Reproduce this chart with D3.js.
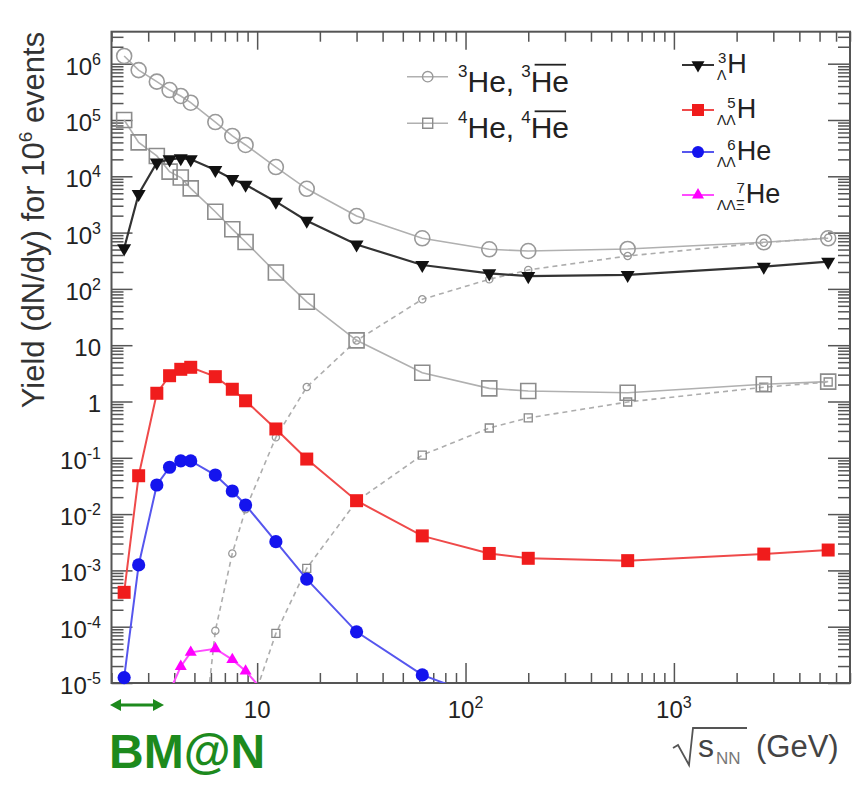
<!DOCTYPE html>
<html>
<head>
<meta charset="utf-8">
<script src="https://cdn.jsdelivr.net/npm/d3@7"></script>
<style>
  body { margin: 0; background: #fff; }
  svg text { font-family: "Liberation Sans", Arial, sans-serif; }
</style>
</head>
<body>
<svg id="chart" width="861" height="787"></svg>
<script>
// collision energies, sqrt(s_NN) in GeV
const energies = [2.3, 2.7, 3.3, 3.8, 4.3, 4.8, 6.3, 7.6, 8.8, 12.3, 17.3, 30, 62, 130, 200, 600, 2700, 5500];

// yields dN/dy per 10^6 events (null = no point)
const he3 = [1.37e6, 7.7e5, 4.8e5, 3.4e5, 2.67e5, 2.03e5, 9.2e4, 5.2e4, 3.6e4, 1.46e4, 6.0e3, 1970, 792, 505, 471, 512, 673, 792];
const he4 = [1.0e5, 4.0e4, 2.3e4, 1.21e4, 9.5e3, 6.1e3, 2.35e3, 1.15e3, 681, 196, 59, 12.2, 3.25, 1.71, 1.54, 1.43, 2.02, 2.25];
const antiHe3 = [null, null, null, null, null, 1e-8, 8.5e-5, 2.0e-3, 1.22e-2, 0.231, 1.81, 12.1, 65.3, 148, 217, 384, 662, 811];
const antiHe4 = [null, null, null, null, null, null, null, null, 2e-6, 7.6e-5, 1.09e-3, 1.7e-2, 0.112, 0.338, 0.51, 0.98, 1.79, 2.22];
const h3L = [526, 4850, 17460, 20000, 20900, 20000, 12940, 8960, 7100, 3540, 1627, 615, 266, 189, 169, 177, 248, 304];
const h5LL = [4.08e-4, 4.8e-2, 1.40, 2.87, 3.73, 4.05, 2.76, 1.65, 1.03, 0.325, 9.5e-2, 1.73e-2, 4.1e-3, 2.0e-3, 1.64e-3, 1.49e-3, 1.95e-3, 2.3e-3];
const he6LL = [1.25e-5, 1.25e-3, 3.29e-2, 6.8e-2, 8.8e-2, 8.8e-2, 4.94e-2, 2.57e-2, 1.45e-2, 3.24e-3, 7.0e-4, 8.1e-5, 1.39e-5, 5e-6, null, null, null, null];
const he7LLXi = [null, null, null, 7e-6, 1.96e-5, 3.5e-5, 4.06e-5, 2.6e-5, 1.63e-5, 4e-6, null, null, null, null, null, null, null, null];

// axis ticks
const xMajor = [10, 100, 1000];
const yMajor = [1e-5, 1e-4, 1e-3, 1e-2, 1e-1, 1, 10, 1e2, 1e3, 1e4, 1e5, 1e6];

const svg = d3.select('#chart');
const plot = {left: 111.5, right: 850, top: 31.7, bottom: 683};

const x = d3.scaleLog().domain([2, 7000]).range([plot.left, plot.right]);
const y = d3.scaleLog().domain([1e-5, 3.7e6]).range([plot.bottom, plot.top]);

// minor ticks 2..9 per decade inside domain
function minors(scale) {
    const [a, b] = scale.domain();
    const out = [];
    for (let p = Math.floor(Math.log10(a)); p <= Math.ceil(Math.log10(b)); p++) {
        for (let k = 2; k <= 9; k++) {
            const v = k * Math.pow(10, p);
            if (v >= a && v <= b) out.push(v);
        }
    }
    return out;
}

const axisColor = '#555';

function drawTicks(axis, values, size, transform) {
    const g = svg.append('g')
        .attr('transform', transform)
        .call(axis.tickValues(values).tickSizeInner(size).tickSizeOuter(0).tickFormat(''));
    g.select('.domain').remove();
    g.selectAll('line').attr('stroke', axisColor).attr('stroke-width', 1.5);
}

drawTicks(d3.axisBottom(x), xMajor, -20, `translate(0,${plot.bottom})`);
drawTicks(d3.axisBottom(x), minors(x), -10, `translate(0,${plot.bottom})`);
drawTicks(d3.axisTop(x), xMajor, -18, `translate(0,${plot.top})`);
drawTicks(d3.axisTop(x), minors(x), -10, `translate(0,${plot.top})`);
drawTicks(d3.axisLeft(y), yMajor, -21, `translate(${plot.left},0)`);
drawTicks(d3.axisLeft(y), minors(y), -12, `translate(${plot.left},0)`);
drawTicks(d3.axisRight(y), yMajor, -22, `translate(${plot.right},0)`);
drawTicks(d3.axisRight(y), minors(y), -12, `translate(${plot.right},0)`);

svg.append('rect')
    .attr('x', plot.left).attr('y', plot.top)
    .attr('width', plot.right - plot.left).attr('height', plot.bottom - plot.top)
    .attr('fill', 'none').attr('stroke', axisColor).attr('stroke-width', 2);

// tick labels
const yLab = svg.append('g').attr('fill', '#222').attr('font-size', 24).attr('text-anchor', 'end');
yMajor.forEach(v => {
    const p = Math.round(Math.log10(v));
    const t = yLab.append('text').attr('x', 101).attr('y', y(v) + 11);
    if (p === 0) t.text('1');
    else if (p === 1) t.text('10');
    else {
        t.append('tspan').text('10');
        t.append('tspan').attr('dy', -10).attr('font-size', 16).text(p);
    }
});

const xLab = svg.append('g').attr('fill', '#222').attr('font-size', 24).attr('text-anchor', 'middle');
xMajor.forEach(v => {
    const p = Math.round(Math.log10(v));
    const t = xLab.append('text').attr('x', x(v)).attr('y', plot.bottom + 35);
    t.append('tspan').text('10');
    if (p > 1) t.append('tspan').attr('dy', -10).attr('font-size', 16).text(p);
});

// axis titles
const yTitle = svg.append('text')
    .attr('transform', 'translate(44,220) rotate(-90)')
    .attr('text-anchor', 'middle').attr('font-size', 31).attr('fill', '#333');
yTitle.append('tspan').text('Yield (dN/dy) for 10');
yTitle.append('tspan').attr('dy', -12).attr('font-size', 19).text('6');
yTitle.append('tspan').attr('dy', 12).text(' events');

const xt = svg.append('g').attr('fill', '#444');
xt.append('path')
    .attr('d', 'M673,748 L678,745 L689,765 L693,728 L747,728')
    .attr('fill', 'none').attr('stroke', '#555').attr('stroke-width', 1.8);
xt.append('text').attr('x', 698).attr('y', 757).attr('font-size', 32).text('s');
xt.append('text').attr('x', 716).attr('y', 764).attr('font-size', 17).attr('fill', '#777').text('NN');
xt.append('text').attr('x', 756).attr('y', 757).attr('font-size', 31).text('(GeV)');

// BM@N
const green = '#1d8a1d';
svg.append('text').attr('x', 109).attr('y', 768)
    .attr('font-size', 48).attr('font-weight', 'bold').attr('fill', green).text('BM@N');
const ay = 705;
svg.append('line').attr('x1', 114).attr('x2', 159).attr('y1', ay).attr('y2', ay)
    .attr('stroke', green).attr('stroke-width', 3);
svg.append('path').attr('d', `M110,${ay} L121,${ay - 6} L121,${ay + 6} Z`).attr('fill', green);
svg.append('path').attr('d', `M164,${ay} L153,${ay - 6} L153,${ay + 6} Z`).attr('fill', green);

// data
svg.append('clipPath').attr('id', 'clip')
    .append('rect')
    .attr('x', plot.left).attr('y', plot.top)
    .attr('width', plot.right - plot.left).attr('height', plot.bottom - plot.top);

const series = [
    {vals: antiHe3, line: '#adadad', w: 1.6, dash: '5,4', shape: 'circle', size: 3.6, stroke: '#999', fill: 'none'},
    {vals: antiHe4, line: '#adadad', w: 1.6, dash: '5,4', shape: 'square', size: 8, stroke: '#888', fill: 'none'},
    {vals: he3, line: '#b0b0b0', w: 1.6, shape: 'circle', size: 7.5, stroke: '#999', fill: 'none'},
    {vals: he4, line: '#b0b0b0', w: 1.6, shape: 'square', size: 15, stroke: '#8c8c8c', fill: 'none'},
    {vals: h3L, line: '#333', w: 2.2, shape: 'tridown', size: 14, stroke: 'none', fill: '#111'},
    {vals: h5LL, line: '#ef4a4a', w: 2, shape: 'square', size: 13, stroke: 'none', fill: '#f01c1c'},
    {vals: he6LL, line: '#5656ee', w: 2, shape: 'circle', size: 6.6, stroke: 'none', fill: '#1414ee'},
    {vals: he7LLXi, line: '#ff4cff', w: 2, shape: 'triup', size: 12, stroke: 'none', fill: '#ff00ff'}
];

function symbolPath(shape, size) {
    if (shape === 'circle') return d3.symbol(d3.symbolCircle, Math.PI * size * size)();
    if (shape === 'square') return d3.symbol(d3.symbolSquare, size * size)();
    return d3.symbol(d3.symbolTriangle, Math.sqrt(3) / 4 * size * size)();
}

function drawMarker(g, s, cx, cy, sw) {
    g.append('path')
        .attr('d', symbolPath(s.shape, s.size))
        .attr('transform', `translate(${cx},${cy})` + (s.shape === 'tridown' ? ' rotate(180)' : ''))
        .attr('fill', s.fill)
        .attr('stroke', s.stroke)
        .attr('stroke-width', sw || 1.6);
}

const line = d3.line().defined(d => d.v != null).x(d => x(d.e)).y(d => y(d.v));
const dataG = svg.append('g');

series.forEach(s => {
    const pts = energies.map((e, i) => ({e, v: s.vals[i]}));
    dataG.append('path')
        .datum(pts)
        .attr('clip-path', 'url(#clip)')
        .attr('d', line)
        .attr('fill', 'none')
        .attr('stroke', s.line)
        .attr('stroke-width', s.w)
        .attr('stroke-dasharray', s.dash || null);
    pts.filter(d => d.v != null && d.v >= y.domain()[0])
        .forEach(d => drawMarker(dataG, s, x(d.e), y(d.v), s.dash ? 1.3 : 1.6));
});

// legends
function richLabel(g, x0, base, parts) {
    let cx = x0;
    parts.forEach(p => {
        const t = g.append('text').attr('x', cx).attr('y', base + (p.dy || 0))
            .attr('font-size', p.size).attr('fill', '#222').text(p.t);
        const w = t.node().getComputedTextLength();
        if (p.over) {
            g.append('line').attr('x1', cx + 4).attr('x2', cx + w - 3)
                .attr('y1', base - 27).attr('y2', base - 27)
                .attr('stroke', '#222').attr('stroke-width', 1.8);
        }
        cx += w + (p.gap || 0);
    });
}

const legL = svg.append('g');
[
    {s: series[2], msize: 5.2, y: 76.7, mass: '3'},
    {s: series[3], msize: 10, y: 123.3, mass: '4'}
].forEach(r => {
    legL.append('line').attr('x1', 407).attr('x2', 448).attr('y1', r.y).attr('y2', r.y)
        .attr('stroke', r.s.line).attr('stroke-width', 1.6);
    drawMarker(legL, Object.assign({}, r.s, {size: r.msize}), 427.7, r.y, 1.4);
    richLabel(legL, 458, r.y + 15, [
        {t: r.mass, size: 17, dy: -15},
        {t: 'He,', size: 30, gap: 7},
        {t: r.mass, size: 17, dy: -15},
        {t: 'He', size: 30, over: true}
    ]);
});

const legR = svg.append('g');
[
    {s: series[4], msize: 13, y: 65, sup: '3', sub: 'Λ', main: 'H'},
    {s: series[5], msize: 12, y: 110, sup: '5', sub: 'ΛΛ', main: 'H'},
    {s: series[6], msize: 6, y: 152, sup: '6', sub: 'ΛΛ', main: 'He'},
    {s: series[7], msize: 12, y: 195, sup: '7', sub: 'ΛΛΞ', main: 'He'}
].forEach(r => {
    legR.append('line').attr('x1', 682).attr('x2', 714).attr('y1', r.y).attr('y2', r.y)
        .attr('stroke', r.s.line).attr('stroke-width', 2);
    drawMarker(legR, Object.assign({}, r.s, {size: r.msize}), 698, r.y);
    const base = r.y + 8;
    const sub = legR.append('text').attr('x', 717).attr('y', base + 7)
        .attr('font-size', 14).attr('fill', '#222').text(r.sub);
    const mx = 717 + sub.node().getComputedTextLength() + 1;
    legR.append('text').attr('x', mx - 1).attr('y', base - 10).attr('text-anchor', 'end')
        .attr('font-size', 15).attr('fill', '#222').text(r.sup);
    legR.append('text').attr('x', mx).attr('y', base)
        .attr('font-size', 27).attr('fill', '#222').text(r.main);
});
</script>
</body>
</html>
